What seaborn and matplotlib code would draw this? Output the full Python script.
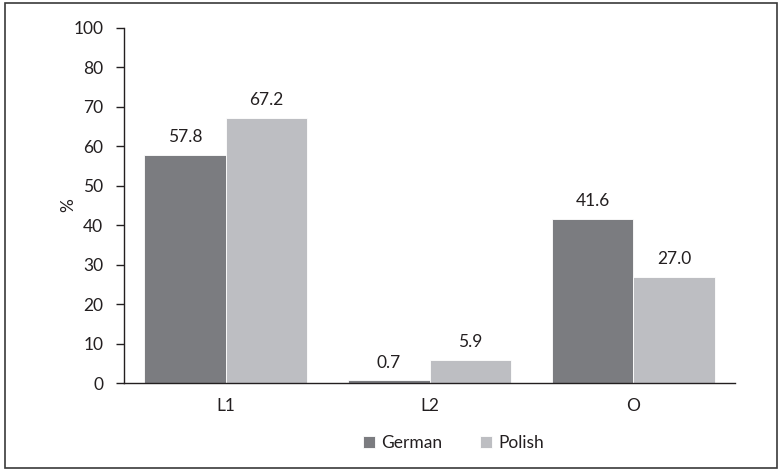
import matplotlib
matplotlib.use("Agg")
import matplotlib.pyplot as plt
from matplotlib.patches import Rectangle
import seaborn as sns
import pandas as pd

categories = ["L1", "L2", "O"]
languages = ["German", "Polish"]
german = [57.8, 0.7, 41.6]
polish = [67.2, 5.9, 27.0]
ytick_values = [0, 10, 20, 30, 40, 50, 60, 70, 80, 90]
ytick_labels = ["0", "10", "20", "30", "40", "50", "60", "70", "80", "100"]
colors = ["#7b7c80", "#bdbec2"]

df = pd.DataFrame({
    "category": categories * 2,
    "language": [languages[0]] * 3 + [languages[1]] * 3,
    "value": german + polish,
})

sns.set_theme(style="white")
plt.rcParams["font.family"] = ["Lato", "DejaVu Sans"]
text_color = "#231f20"
fs = 12.5

fig = plt.figure(figsize=(7.82, 4.71), dpi=100)
ax = fig.add_axes([0.1586, 0.1868, 0.7813, 0.7538])

sns.barplot(data=df, x="category", y="value", hue="language",
            order=categories, hue_order=languages, palette=colors,
            width=0.8, saturation=1, edgecolor="white", linewidth=0.6, ax=ax)

for container in ax.containers:
    ax.bar_label(container, fmt="%.1f", padding=7, fontsize=fs, color=text_color)

ax.set_xlim(-0.5, len(categories) - 0.5)
ax.set_ylim(0, 90)
ax.set_yticks(ytick_values)
ax.set_yticklabels(ytick_labels)
ax.set_xlabel("")
ax.set_ylabel("%", fontsize=fs, color=text_color)
ax.yaxis.set_label_coords(-0.079, 0.5)

ax.set_xticks(range(len(categories)))
ax.set_xticks([i - 0.5 for i in range(len(categories) + 1)], minor=True)
ax.tick_params(axis="x", which="major", length=0, pad=11, labelsize=fs, colors=text_color)
ax.tick_params(axis="x", which="minor", length=6, width=1, color=text_color, direction="out")
ax.tick_params(axis="y", length=6, width=1, color=text_color, direction="out",
               labelsize=fs, labelcolor=text_color, pad=9, left=True)

for side in ["top", "right"]:
    ax.spines[side].set_visible(False)
for side in ["left", "bottom"]:
    ax.spines[side].set_color(text_color)
    ax.spines[side].set_linewidth(1)

handles, labels = ax.get_legend_handles_labels()
ax.legend_.remove()
fig.legend(handles, labels, loc="center", bbox_to_anchor=(0.58, 0.06), ncol=2,
           frameon=False, fontsize=fs, handlelength=0.7, handleheight=0.7,
           handletextpad=0.35, columnspacing=2.2, labelcolor=text_color)

fig.patches.append(Rectangle((0.006, 0.006), 0.988, 0.988, transform=fig.transFigure,
                             fill=False, edgecolor="#3a3a3a", linewidth=1.2))

fig.savefig("out.png", dpi=100)
